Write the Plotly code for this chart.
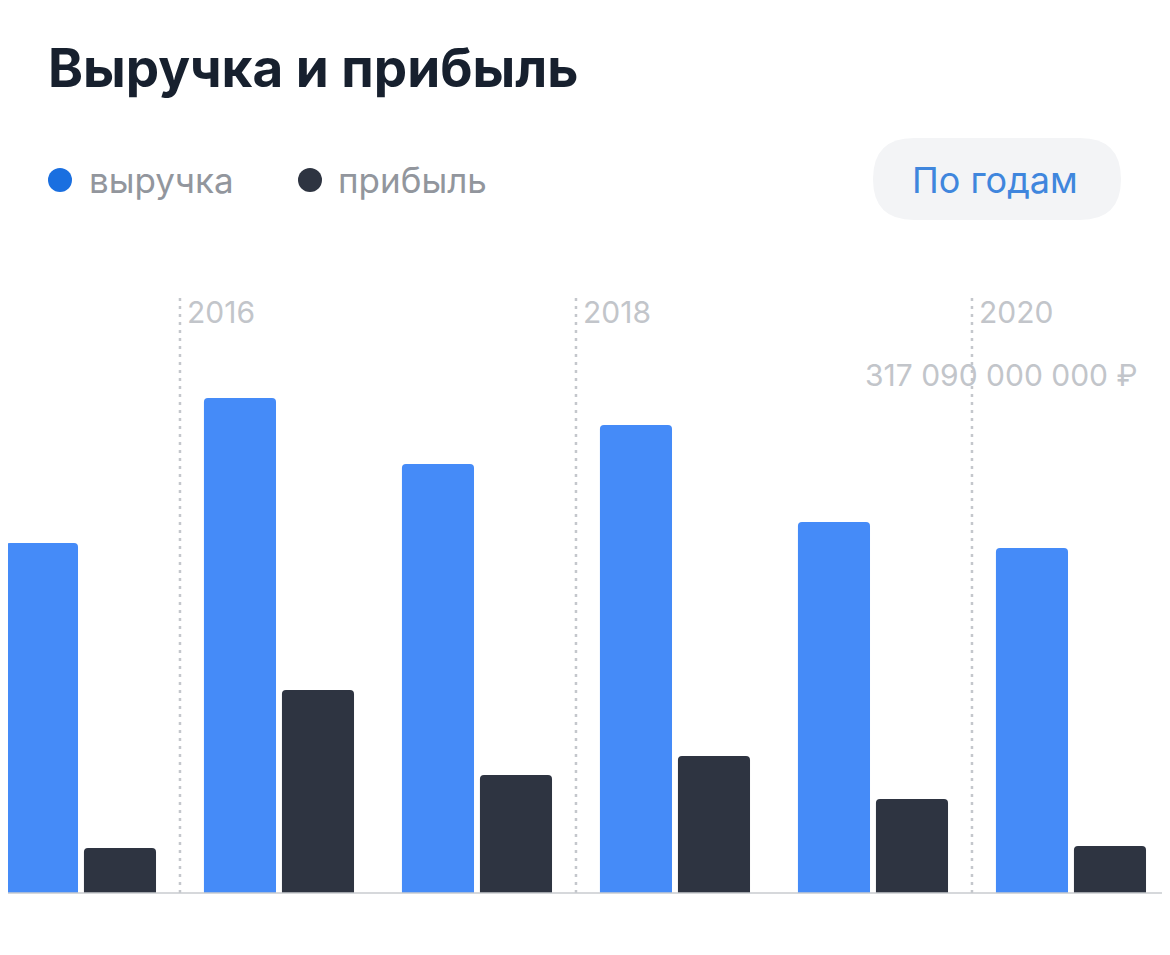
import plotly.graph_objects as go

years = [2015, 2016, 2017, 2018, 2019, 2020]
revenue = [321.7, 455.0, 394.3, 430.1, 341.0, 317.09]   # млрд ₽
profit = [41.4, 186.6, 108.5, 125.9, 86.4, 43.2]
marked_years = [2016, 2018, 2020]
value_label = "317 090 000 000 ₽"

W, H = 1170, 955
OFF = 8                 # page body margin
BASE = 893 - OFF        # baseline in figure pixels


def px(x):
    return (x - OFF) / W


def py(y):
    return 1 - (y - OFF) / BASE


fig = go.Figure()
fig.add_bar(x=years, y=revenue, width=0.364, offset=-0.379,
            marker=dict(color="#458bf8", line_width=0, cornerradius=4), name="выручка")
fig.add_bar(x=years, y=profit, width=0.364, offset=0.015,
            marker=dict(color="#2e3441", line_width=0, cornerradius=4), name="прибыль")

shapes = []
annotations = []
for yr in marked_years:
    xl = yr - 0.5
    shapes.append(dict(type="line", xref="x", yref="paper", x0=xl, x1=xl,
                       y0=0, y1=py(295), line=dict(color="#c4c7cc", width=2.5, dash="3px,5px")))
    annotations.append(dict(x=xl, xref="x", xshift=5, y=py(312), yref="paper",
                            text=str(yr), showarrow=False, xanchor="left", yanchor="middle",
                            font=dict(size=30, color="#c2c5ca")))

# baseline
shapes.append(dict(type="line", xref="paper", yref="paper", x0=0, x1=1, y0=0, y1=0,
                   line=dict(color="#c8cbcf", width=1.5)))
# legend dots
shapes.append(dict(type="circle", xref="paper", yref="paper", x0=px(48), x1=px(72),
                   y0=py(192), y1=py(168), fillcolor="#1a6fe0", line_width=0))
shapes.append(dict(type="circle", xref="paper", yref="paper", x0=px(298), x1=px(322),
                   y0=py(192), y1=py(168), fillcolor="#2e3441", line_width=0))
# button
shapes.append(dict(type="path", xref="paper", yref="paper", fillcolor="#f3f4f6", line_width=0,
                   path=(f"M {px(914)} {py(138)} L {px(1080)} {py(138)} "
                         f"Q {px(1121)} {py(138)} {px(1121)} {py(179)} "
                         f"Q {px(1121)} {py(220)} {px(1080)} {py(220)} "
                         f"L {px(914)} {py(220)} "
                         f"Q {px(873)} {py(220)} {px(873)} {py(179)} "
                         f"Q {px(873)} {py(138)} {px(914)} {py(138)} Z")))

annotations += [
    dict(x=px(46), y=py(68), text="<b>Выручка и прибыль</b>", xanchor="left",
         font=dict(size=53, color="#17202e")),
    dict(x=px(87), y=py(180), text="выручка", xanchor="left",
         font=dict(size=35, color="#92969d")),
    dict(x=px(336), y=py(180), text="прибыль", xanchor="left",
         font=dict(size=35, color="#92969d")),
    dict(x=px(995), y=py(180), text="По годам", xanchor="center",
         font=dict(size=36, color="#3f86dd")),
    dict(x=px(1140), y=py(375), text=value_label, xanchor="right",
         font=dict(size=30, color="#c2c5ca")),
]
for a in annotations:
    a.setdefault("xref", "paper")
    a.setdefault("yref", "paper")
    a.setdefault("showarrow", False)
    a.setdefault("yanchor", "middle")

fig.update_layout(
    width=W, height=H, margin=dict(l=0, r=0, t=0, b=H - BASE),
    paper_bgcolor="white", plot_bgcolor="white", showlegend=False,
    font=dict(family="Inter, Roboto, sans-serif"),
    xaxis=dict(range=[2014.591 + OFF / 198, 2014.591 + (W + OFF) / 198], visible=False),
    yaxis=dict(range=[0, BASE * 0.919], visible=False),
    shapes=shapes, annotations=annotations, barmode="overlay",
)
fig.write_html("out.html")
